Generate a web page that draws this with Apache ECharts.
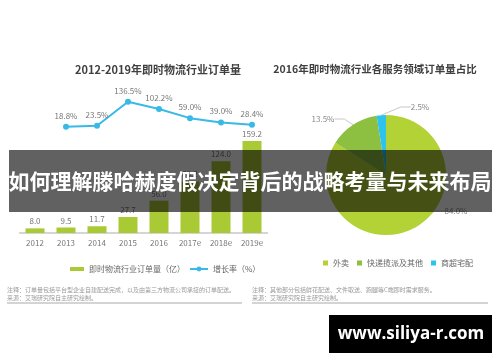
<!DOCTYPE html>
<html>
<head>
<meta charset="utf-8">
<script src="https://cdn.jsdelivr.net/npm/echarts@6/dist/echarts.min.js"></script>
<style>
html,body{margin:0;padding:0;background:#fff;}
#main{width:500px;height:362px;}
</style>
</head>
<body>
<div id="main"></div>
<script>
const years = ['2012', '2013', '2014', '2015', '2016', '2017e', '2018e', '2019e'];
const orders = [8.0, 9.5, 11.7, 27.7, 56.0, 89.2, 124.0, 159.2];
const growth = [null, 18.8, 23.5, 136.5, 102.2, 59.0, 39.0, 28.4];
const pieNames = ['外卖', '快递揽派及其他', '商超宅配'];
const pieValues = [84.0, 13.5, 2.5];
const barName = '即时物流行业订单量（亿）';
const lineName = '增长率（%）';
const leftTitle = '2012-2019年即时物流行业订单量';
const rightTitle = '2016年即时物流行业各服务领域订单量占比';
const leftNotes = ['注释：订单量包括平台型企业自建配送完成，以及由第三方物流公司承接的订单配送。', '来源：艾瑞研究院自主研究绘制。'];
const rightNotes = ['注释：其他部分包括鲜花配送、文件取送、跑腿等C端即时需求服务。', '来源：艾瑞研究院自主研究绘制。'];
const bannerText = '如何理解滕哈赫度假决定背后的战略考量与未来布局';
const watermark = 'www.siliya-r.com';

const FONT = '"Noto Sans CJK SC", "Noto Sans", sans-serif';
const GREEN = '#a9c935';
const PIE_COLORS = ['#b3d236', '#8dbf40', '#2ec3ec'];
const BLUE = '#38b9e6';
const pieCenter = [386, 175];
const pieLabelOffsets = [[70, 36], [-63, -56], [34, -68]];

const chart = echarts.init(document.getElementById('main'), null, {renderer: 'canvas'});

const option = {
  animation: false,
  backgroundColor: '#fff',
  textStyle: {fontFamily: FONT},
  grid: [
    {left: 19.5, width: 248, top: 117.4, height: 115.6},
    {left: 19.5, width: 248, top: 88.2, height: 42.5}
  ],
  xAxis: [
    {
      type: 'category', gridIndex: 0, data: years,
      axisLine: {lineStyle: {color: '#c8c8c8', width: 1.5}},
      axisTick: {show: false},
      axisLabel: {color: '#777', fontSize: 8, margin: 6, fontFamily: FONT}
    },
    {type: 'category', gridIndex: 1, data: years, show: false}
  ],
  yAxis: [
    {type: 'value', gridIndex: 0, min: 0, max: 200, show: false, splitLine: {show: false}},
    {type: 'value', gridIndex: 1, min: 0, max: 200, show: false, splitLine: {show: false}}
  ],
  legend: [
    {
      data: [barName], left: 65, top: 260, icon: 'rect', itemWidth: 14, itemHeight: 4,
      textStyle: {fontSize: 8, color: '#666', fontFamily: FONT}
    },
    {
      data: [lineName], left: 184, top: 260, itemWidth: 18, itemHeight: 6,
      textStyle: {fontSize: 8, color: '#666', fontFamily: FONT}
    },
    {
      data: pieNames, left: 318, top: 254, icon: 'rect', itemWidth: 5, itemHeight: 5, itemGap: 8,
      textStyle: {fontSize: 8, color: '#666', fontFamily: FONT}
    }
  ],
  series: [
    {
      name: barName, type: 'bar', xAxisIndex: 0, yAxisIndex: 0, data: orders,
      barWidth: 19, itemStyle: {color: GREEN},
      label: {
        show: true, position: 'top', distance: 3, fontSize: 8, color: '#777', fontFamily: FONT,
        formatter: p => Number(p.value).toFixed(1)
      }
    },
    {
      name: lineName, type: 'line', xAxisIndex: 1, yAxisIndex: 1, data: growth,
      symbol: 'circle', symbolSize: 6, lineStyle: {color: BLUE, width: 2}, itemStyle: {color: BLUE},
      label: {
        show: true, position: 'top', distance: 4, fontSize: 8, color: '#777', fontFamily: FONT,
        formatter: p => p.value == null ? '' : Number(p.value).toFixed(1) + '%'
      }
    },
    {
      name: '占比', type: 'pie', center: pieCenter, radius: 60, startAngle: 90, clockwise: true,
      data: pieNames.map((n, i) => ({name: n, value: pieValues[i], itemStyle: {color: PIE_COLORS[i]}})),
      itemStyle: {borderWidth: 0},
      emphasis: {disabled: true},
      label: {
        show: true, position: 'outside', fontSize: 8, color: '#888', fontFamily: FONT,
        formatter: p => Number(p.value).toFixed(1) + '%'
      },
      labelLine: {show: true, length: 8, length2: 10, lineStyle: {color: '#c8c8c8', width: 1}},
      labelLayout: function (p) {
        const o = pieLabelOffsets[p.dataIndex];
        return {x: pieCenter[0] + o[0], y: pieCenter[1] + o[1], align: 'center', verticalAlign: 'middle'};
      }
    }
  ],
  graphic: [
    {type: 'text', z: 10, style: {text: leftTitle, x: 158, y: 70, textAlign: 'center', textVerticalAlign: 'middle', fill: '#404040', font: 'bold 11px ' + FONT}},
    {type: 'text', z: 10, style: {text: rightTitle, x: 375, y: 69, textAlign: 'center', textVerticalAlign: 'middle', fill: '#404040', font: 'bold 10.5px ' + FONT}},
    {type: 'text', z: 10, style: {text: leftNotes[0], x: 7, y: 290, textVerticalAlign: 'middle', fill: '#999', font: '6px ' + FONT}},
    {type: 'text', z: 10, style: {text: leftNotes[1], x: 7, y: 297.5, textVerticalAlign: 'middle', fill: '#999', font: '6px ' + FONT}},
    {type: 'text', z: 10, style: {text: rightNotes[0], x: 252, y: 290, textVerticalAlign: 'middle', fill: '#999', font: '6px ' + FONT}},
    {type: 'text', z: 10, style: {text: rightNotes[1], x: 252, y: 297.5, textVerticalAlign: 'middle', fill: '#999', font: '6px ' + FONT}},
    {type: 'rect', z: 10, shape: {x: 7, y: 302, width: 235, height: 2}, style: {fill: '#d4d4d4'}},
    {type: 'rect', z: 10, shape: {x: 252, y: 302, width: 236, height: 2}, style: {fill: '#d4d4d4'}},
    {type: 'rect', z: 100, shape: {x: 9, y: 150, width: 483, height: 62}, style: {fill: 'rgba(0,0,0,0.62)'}},
    {type: 'text', z: 101, style: {text: bannerText, x: 250, y: 181, textAlign: 'center', textVerticalAlign: 'middle', fill: '#fff', font: 'bold 21px ' + FONT}},
    {type: 'rect', z: 100, shape: {x: 329, y: 315, width: 163, height: 38}, style: {fill: '#000'}},
    {type: 'text', z: 101, style: {text: watermark, x: 411, y: 334, textAlign: 'center', textVerticalAlign: 'middle', fill: '#fff', font: 'bold 17px "Open Sans", sans-serif'}}
  ]
};
chart.setOption(option);
</script>
</body>
</html>
